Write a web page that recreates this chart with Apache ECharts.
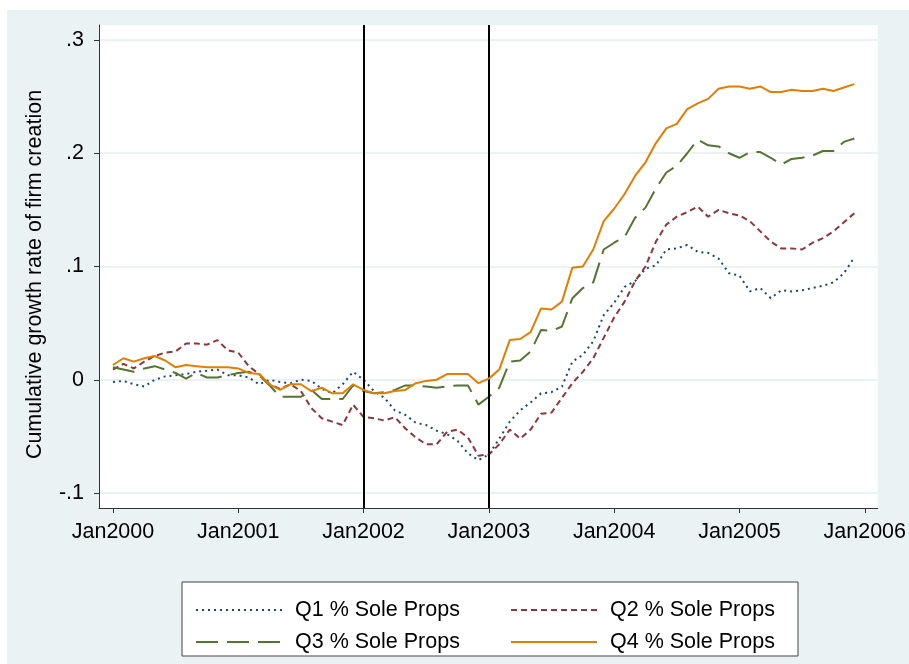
<!DOCTYPE html>
<html>
<head>
<meta charset="utf-8">
<script src="https://cdn.jsdelivr.net/npm/echarts@6/dist/echarts.min.js"></script>
<style>
html,body{margin:0;padding:0;background:#ffffff;}
#chart{position:absolute;left:7px;top:10px;width:902px;height:654px;}
</style>
</head>
<body>
<div id="chart"></div>
<script>
// Monthly observations Jan2000 .. Dec2005 (72 months)
const yearTicks = [0, 12, 24, 36, 48, 60, 72];
const yearTickLabels = ['Jan2000','Jan2001','Jan2002','Jan2003','Jan2004','Jan2005','Jan2006'];
const yTicks = [-0.1, 0, 0.1, 0.2, 0.3];
const yTickLabels = ['-.1', '0', '.1', '.2', '.3'];
const eventMonths = [24, 36];
const seriesNames = ['Q1 % Sole Props', 'Q2 % Sole Props', 'Q3 % Sole Props', 'Q4 % Sole Props'];

const q1 = [-0.002,-0.001,-0.004,-0.006,0.000,0.003,0.004,0.005,0.007,0.008,0.009,0.004,
            0.004,0.002,-0.004,0.000,-0.002,-0.003,0.000,-0.001,-0.008,-0.012,-0.004,0.007,
            0.000,-0.010,-0.016,-0.027,-0.031,-0.038,-0.040,-0.045,-0.048,-0.054,-0.065,-0.071,
            -0.066,-0.052,-0.037,-0.027,-0.020,-0.012,-0.011,-0.006,0.016,0.022,0.034,0.057,
            0.068,0.082,0.087,0.098,0.101,0.115,0.116,0.119,0.113,0.112,0.107,0.094,
            0.092,0.078,0.081,0.072,0.079,0.078,0.079,0.081,0.083,0.086,0.094,0.108];
const q2 = [0.009,0.014,0.010,0.016,0.021,0.024,0.025,0.032,0.032,0.031,0.035,0.026,
            0.024,0.012,0.005,-0.004,-0.008,-0.004,-0.010,-0.025,-0.034,-0.037,-0.040,-0.022,
            -0.033,-0.034,-0.036,-0.033,-0.043,-0.051,-0.057,-0.057,-0.046,-0.044,-0.051,-0.067,
            -0.066,-0.057,-0.044,-0.052,-0.044,-0.030,-0.029,-0.016,-0.003,0.007,0.019,0.037,
            0.055,0.069,0.087,0.100,0.122,0.137,0.144,0.148,0.153,0.144,0.150,0.147,
            0.145,0.140,0.131,0.122,0.116,0.116,0.115,0.121,0.125,0.131,0.139,0.147];
const q3 = [0.011,0.009,0.007,0.010,0.012,0.009,0.006,0.001,0.006,0.002,0.002,0.004,
            0.006,0.007,0.004,-0.005,-0.015,-0.015,-0.015,-0.009,-0.017,-0.017,-0.017,-0.005,
            -0.010,-0.012,-0.011,-0.009,-0.005,-0.005,-0.006,-0.007,-0.006,-0.005,-0.005,-0.022,
            -0.015,-0.007,0.016,0.017,0.025,0.044,0.043,0.047,0.072,0.081,0.086,0.115,
            0.121,0.126,0.143,0.152,0.169,0.183,0.189,0.200,0.212,0.207,0.206,0.200,
            0.196,0.201,0.201,0.196,0.190,0.195,0.196,0.198,0.202,0.202,0.210,0.213];
const q4 = [0.013,0.019,0.016,0.019,0.021,0.017,0.011,0.013,0.012,0.011,0.011,0.011,
            0.010,0.006,0.005,-0.004,-0.009,-0.004,-0.004,-0.010,-0.007,-0.012,-0.012,-0.004,
            -0.009,-0.012,-0.012,-0.010,-0.009,-0.003,-0.001,0.000,0.005,0.005,0.005,-0.003,
            0.001,0.009,0.035,0.036,0.042,0.063,0.062,0.069,0.099,0.100,0.115,0.140,
            0.151,0.164,0.180,0.192,0.209,0.222,0.226,0.239,0.244,0.248,0.257,0.259,
            0.259,0.257,0.259,0.254,0.254,0.256,0.255,0.255,0.257,0.255,0.258,0.261];

const colors = ['#1a476f', '#90353b', '#55752f', '#e37e00'];
const dashes = [[2, 4], [6, 4], [22, 9], 'solid'];
const allValues = [q1, q2, q3, q4];

const FONT = 'Liberation Sans, Arial, sans-serif';
const FS = 21.5;

const chart = echarts.init(document.getElementById('chart'), null, {renderer: 'canvas'});

const series = allValues.map((vals, i) => {
  const s = {
    name: seriesNames[i],
    type: 'line',
    data: vals.map((v, m) => [m, v]),
    showSymbol: false,
    symbol: 'none',
    smooth: false,
    animation: false,
    lineStyle: {color: colors[i], width: 2, type: dashes[i], cap: 'butt'},
    itemStyle: {color: colors[i]},
    z: 2 + i
  };
  if (i === 0) {
    s.markLine = {
      silent: true,
      symbol: ['none', 'none'],
      label: {show: false},
      animation: false,
      lineStyle: {color: '#000000', width: 2, type: 'solid'},
      data: eventMonths.map(m => ({xAxis: m}))
    };
  }
  return s;
});

const legendText = {fontFamily: FONT, fontSize: FS, color: '#000', lineHeight: 24, padding: [0, 0, 0, 8]};
const legendCommon = {
  orient: 'vertical',
  top: 583,
  itemWidth: 86, itemHeight: 14, itemGap: 8,
  itemStyle: {opacity: 0},
  textStyle: legendText,
  selectedMode: false,
  z: 10
};

const option = {
  backgroundColor: '#eaf2f3',
  animation: false,
  grid: {left: 92, top: 15, width: 781, height: 483, show: true, backgroundColor: '#ffffff', borderWidth: 0},
  xAxis: {
    type: 'value',
    min: -1.337,
    max: 73.24,
    axisLine: {show: true, onZero: false, lineStyle: {color: '#333', width: 1}},
    axisTick: {show: true, length: 5, customValues: yearTicks, lineStyle: {color: '#333'}},
    axisLabel: {
      customValues: yearTicks,
      margin: 13,
      fontFamily: FONT, fontSize: FS, color: '#000',
      formatter: v => yearTickLabels[yearTicks.indexOf(Math.round(v))]
    },
    splitLine: {show: false}
  },
  yAxis: {
    type: 'value',
    min: -0.11324,
    max: 0.31324,
    name: 'Cumulative growth rate of firm creation',
    nameLocation: 'middle',
    nameGap: 53,
    nameTextStyle: {fontFamily: FONT, fontSize: FS, color: '#000', padding: [0, 16, 0, 0]},
    axisLine: {show: true, onZero: false, lineStyle: {color: '#333', width: 1}},
    axisTick: {show: true, length: 5, customValues: yTicks, lineStyle: {color: '#333'}},
    axisLabel: {
      customValues: yTicks,
      margin: 15,
      fontFamily: FONT, fontSize: FS, color: '#000',
      formatter: v => {
        const k = yTicks.findIndex(t => Math.abs(t - v) < 1e-6);
        return k >= 0 ? yTickLabels[k] : '';
      }
    },
    splitLine: {show: true, lineStyle: {color: '#eaf2f3', width: 2}}
  },
  graphic: [{
    type: 'rect',
    z: 0,
    shape: {x: 175, y: 572, width: 616, height: 74},
    style: {fill: '#ffffff', stroke: '#444444', lineWidth: 1}
  }],
  legend: [
    Object.assign({data: [seriesNames[0], seriesNames[2]], left: 183}, legendCommon),
    Object.assign({data: [seriesNames[1], seriesNames[3]], left: 498}, legendCommon)
  ],
  series: series
};

chart.setOption(option);
</script>
</body>
</html>
